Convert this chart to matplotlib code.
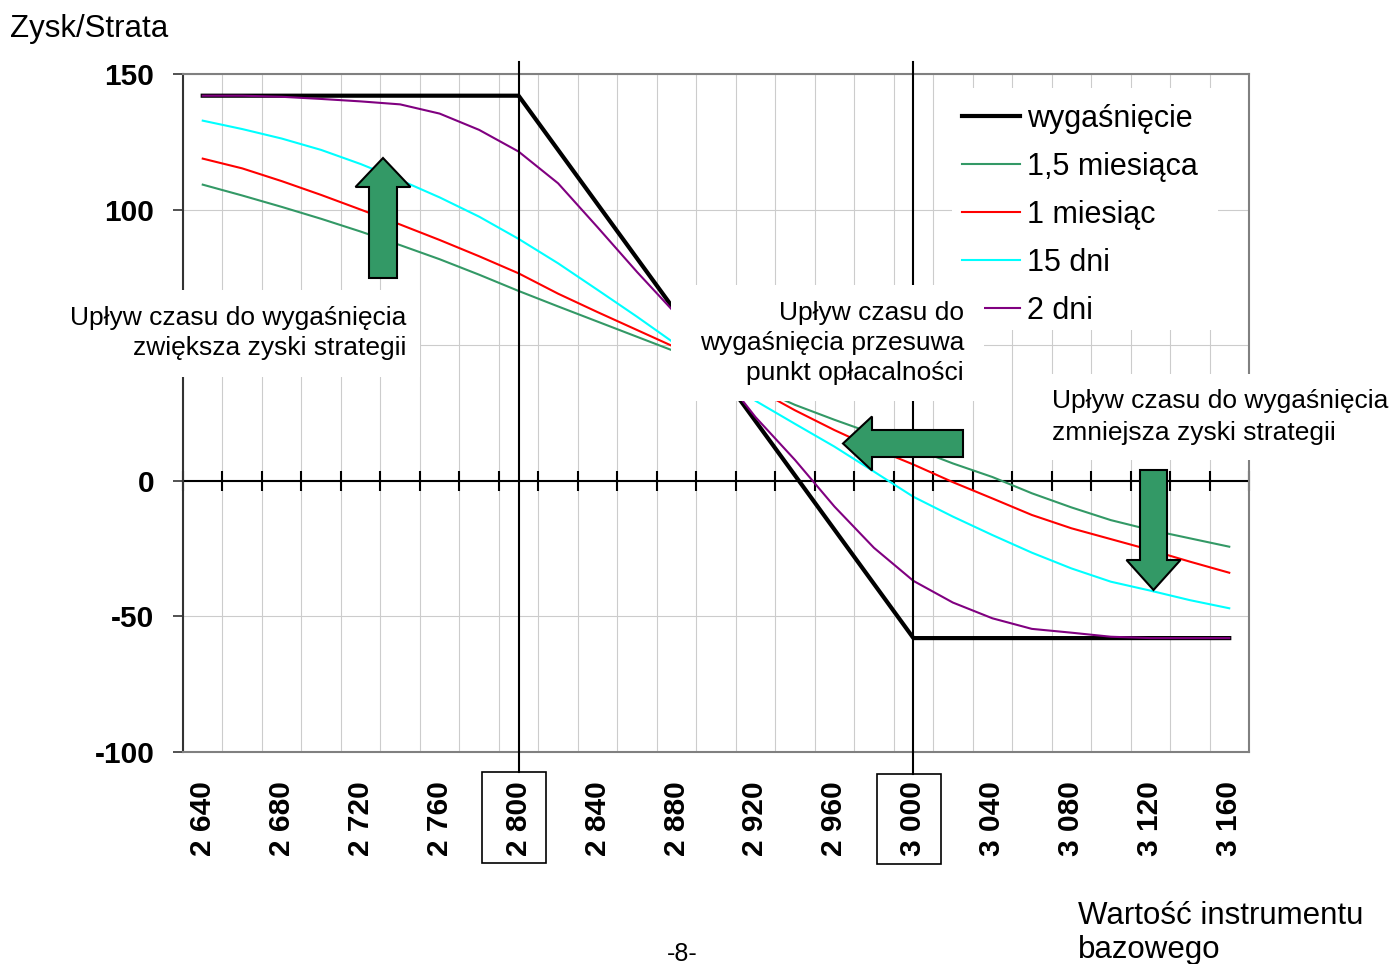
import matplotlib
matplotlib.use('Agg')
import matplotlib.pyplot as plt
import matplotlib.transforms as mtransforms
from matplotlib.patches import Rectangle, FancyArrow
from matplotlib.lines import Line2D

plt.rcParams['font.family'] = ['Liberation Sans', 'DejaVu Sans']

# ceny instrumentu bazowego (oś kategorii)
prices = [2640, 2660, 2680, 2700, 2720, 2740, 2760, 2780, 2800, 2820, 2840, 2860, 2880, 2900,
          2920, 2940, 2960, 2980, 3000, 3020, 3040, 3060, 3080, 3100, 3120, 3140, 3160]

# zysk/strata sprzedanego spreadu kupna 2800/3000
expiry = [142, 142, 142, 142, 142, 142, 142, 142, 142, 122, 102, 82, 62, 42,
          22, 2, -18, -38, -58, -58, -58, -58, -58, -58, -58, -58, -58]
m15 = [109.2, 105.2, 101.0, 96.6, 91.9, 86.9, 81.7, 76.0, 70.0, 64.3, 58.7, 53.1, 47.5, 41.0,
       34.5, 28.0, 22.5, 17.3, 12.0, 6.4, 1.4, -4.6, -9.8, -14.5, -18.1, -21.2, -24.3]
m1 = [118.8, 115.2, 110.5, 105.4, 100.0, 94.5, 88.8, 82.8, 76.5, 69.0, 62.2, 55.6, 49.0, 41.8,
      34.0, 26.0, 18.7, 12.0, 6.0, -0.5, -6.5, -12.6, -17.5, -21.5, -25.5, -29.8, -33.9]
d15 = [132.8, 129.7, 126.2, 122.0, 116.8, 110.9, 104.5, 97.4, 89.2, 80.2, 70.4, 60.5, 50.2, 39.8,
       29.5, 21.0, 12.6, 3.4, -5.9, -13.2, -20.0, -26.5, -32.3, -37.2, -40.5, -44.0, -47.0]
d2 = [142.0, 142.0, 141.6, 140.8, 139.9, 138.8, 135.4, 129.4, 121.4, 109.7, 93.5, 77.0, 61.3, 42.0,
      23.5, 7.7, -9.5, -24.7, -36.9, -44.9, -50.7, -54.6, -56.0, -57.5, -58.0, -58.0, -58.0]

names = ['wygaśnięcie', '1,5 miesiąca', '1 miesiąc', '15 dni', '2 dni']
colors = ['black', '#339966', '#ff0000', '#00ffff', '#800080']
strikes = [2800, 3000]
yticks = [-100, -50, 0, 50, 100, 150]
ylabels = ['-100', '-50', '0', '', '100', '150']   # 50 schowane pod opisem

W, H = 1394, 964


def fx(px):
    return px / W


def fy(py):
    return 1 - py / H


fig = plt.figure(figsize=(W / 100, H / 100), dpi=100)
ax = fig.add_axes([fx(183), fy(752), fx(1249) - fx(183), fy(74) - fy(752)])

idx = list(range(len(prices)))
for name, vals, col in zip(names, [expiry, m15, m1, d15, d2], colors):
    lw = 3.0 if col == 'black' else 1.5
    ax.plot(idx, vals, color=col, lw=lw, label=name, zorder=3)

ax.set_xlim(-0.5, len(prices) - 0.5)
ax.set_ylim(-100, 150)

# siatka
bounds = [i - 0.5 for i in range(len(prices) + 1)]
ax.set_xticks(bounds, minor=True)
ax.grid(which='minor', axis='x', color='#cccccc', lw=0.8, zorder=0)
ax.set_yticks(yticks)
ax.set_yticklabels(ylabels)
ax.grid(which='major', axis='y', color='#cccccc', lw=0.8, zorder=0)
ax.set_axisbelow(True)

ax.set_xticks(idx)
ax.set_xticklabels([f'{p:,}'.replace(',', ' ') if i % 2 == 0 else '' for i, p in enumerate(prices)],
                   rotation=90, fontweight='bold', fontsize=21.5)
ax.tick_params(axis='x', which='both', length=0, pad=21)
ax.tick_params(axis='y', which='major', length=7.2, width=1.2, color='#333333', pad=13.5,
               labelsize=21.5)
for lab in ax.get_yticklabels():
    lab.set_fontweight('bold')

for side in ['top', 'right', 'bottom']:
    ax.spines[side].set_color('#808080')
    ax.spines[side].set_linewidth(1.5)
ax.spines['left'].set_color('#333333')
ax.spines['left'].set_linewidth(1.5)

# oś zera z kreskami
ax.axhline(0, color='black', lw=1.5, zorder=2)
ax.plot(bounds, [0] * len(bounds), ls='none', marker='|', markersize=15, mew=1.5,
        color='black', clip_on=False, zorder=2)

# linie cen wykonania i ramki wokół ich etykiet
trans = mtransforms.blended_transform_factory(ax.transData, fig.transFigure)
for k, top_px, bot_px in zip(strikes, [772, 774], [863, 864]):
    i = prices.index(k)
    ln = Line2D([i, i], [fy(top_px), fy(62)], transform=trans, color='black', lw=1.5,
                clip_on=False, zorder=4)
    ax.add_artist(ln)
    ax.add_artist(Rectangle((i - 0.93, fy(bot_px)), 1.62, fy(top_px) - fy(bot_px), transform=trans,
                            fill=False, ec='black', lw=1.2, clip_on=False))


# białe pola pod opisami
def white_box(x0, y0, x1, y1, z):
    fig.add_artist(Rectangle((fx(x0), fy(y1)), fx(x1) - fx(x0), fy(y0) - fy(y1),
                             transform=fig.transFigure, fc='white', ec='none', zorder=z))


white_box(952, 88, 1218, 330, 5)
white_box(55, 290, 420, 377, 6)
white_box(671, 285, 984, 401, 6)
white_box(1040, 374, 1394, 460, 6)

leg = fig.legend(loc='upper left', bbox_to_anchor=(fx(962), fy(104)), frameon=False, fontsize=22,
                 handlelength=1.9, handletextpad=0.23, labelspacing=0.59, borderpad=0,
                 borderaxespad=0)
leg.set_zorder(5.5)

txt = dict(fontsize=19, zorder=7)
fig.text(fx(406), fy(333), 'Upływ czasu do wygaśnięcia\nzwiększa zyski strategii',
         ha='right', va='center', multialignment='right', linespacing=1.31, **txt)
fig.text(fx(964), fy(343), 'Upływ czasu do\nwygaśnięcia przesuwa\npunkt opłacalności',
         ha='right', va='center', multialignment='right', linespacing=1.33, **txt)
fig.text(fx(1052), fy(417), 'Upływ czasu do wygaśnięcia\nzmniejsza zyski strategii',
         ha='left', va='center', multialignment='left', linespacing=1.38, **txt)

fig.text(fx(10), fy(37), 'Zysk/Strata', fontsize=22.5, ha='left', va='baseline')
fig.text(fx(1078), fy(933), 'Wartość instrumentu\nbazowego', fontsize=22.5, ha='left',
         va='center', linespacing=1.17)
fig.text(fx(682), fy(954), '-8-', fontsize=18, ha='center', va='center')

# strzałki
arrow = dict(fc='#339966', ec='black', lw=1.5, length_includes_head=True,
             transform=fig.dpi_scale_trans, zorder=8)
fig.add_artist(FancyArrow(3.83, (H - 278) / 100, 0, 1.20, width=0.28, head_width=0.55,
                          head_length=0.29, **arrow))
fig.add_artist(FancyArrow(9.63, (H - 443.5) / 100, -1.20, 0, width=0.27, head_width=0.54,
                          head_length=0.29, **arrow))
fig.add_artist(FancyArrow(11.535, (H - 470) / 100, 0, -1.20, width=0.27, head_width=0.54,
                          head_length=0.30, **arrow))

fig.savefig('out.png', dpi=100)
